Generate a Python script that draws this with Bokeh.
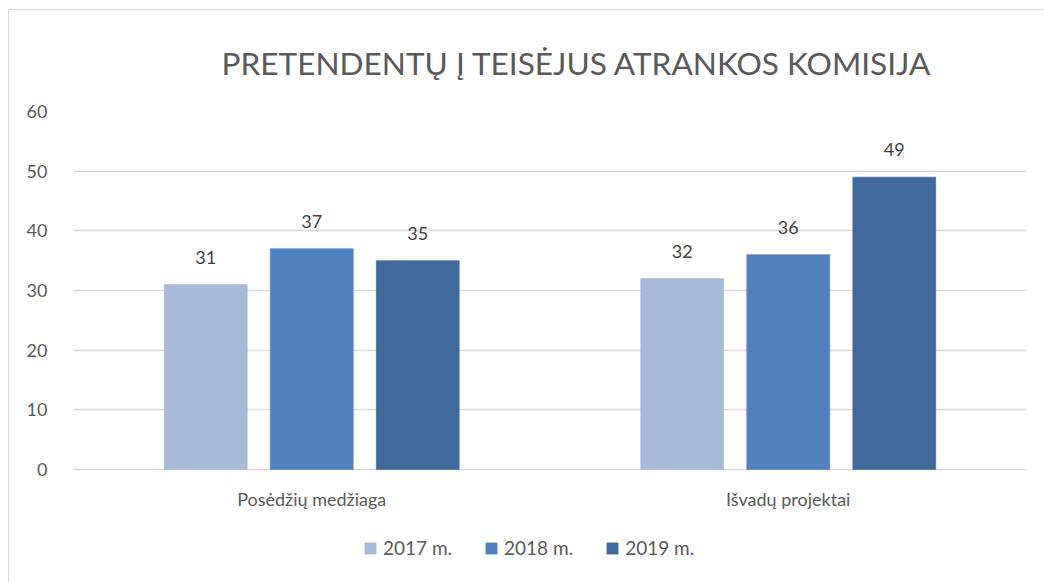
from bokeh.plotting import figure
from bokeh.models import ColumnDataSource, Legend, LegendItem, FixedTicker, Range1d, Title
from bokeh.core.properties import value
from bokeh.embed import file_html
from bokeh.resources import INLINE

categories = ["Posėdžių medžiaga", "Išvadų projektai"]
years = ["2017 m.", "2018 m.", "2019 m."]
y2017 = [31, 32]
y2018 = [37, 36]
y2019 = [35, 49]
colors = ["#A9B9D8", "#4F81BD", "#41699B"]
title_text = "PRETENDENTŲ Į TEISĖJUS ATRANKOS KOMISIJA"
y_ticks = [0, 10, 20, 30, 40, 50, 60]

FONT = "Lato"
W, H = 1036, 573
# frame extends below the value axis to leave room for category labels and legend
Y_MIN, Y_MAX = -18.1, 60

p = figure(width=W, height=H, output_backend="svg", toolbar_location=None,
           x_range=Range1d(0, len(categories)), y_range=Range1d(Y_MIN, Y_MAX),
           min_border_left=64, min_border_right=19, min_border_top=101, min_border_bottom=6)
p.styles = {"margin-left": "8px", "margin-top": "9px",
            "border-left": "1px solid #D9D9D9", "border-top": "1px solid #D9D9D9"}
p.outline_line_color = None
p.background_fill_color = "white"
p.border_fill_color = "white"

centers = [i + 0.5 for i in range(len(categories))]
offsets = [-0.2225, 0.0, 0.2225]
bw = 0.174
renderers = []
for series, off, col in zip([y2017, y2018, y2019], offsets, colors):
    xs = [c + off for c in centers]
    src = ColumnDataSource(dict(x=xs, top=series, lab=[str(v) for v in series]))
    r = p.vbar(x="x", top="top", width=bw, bottom=0, source=src,
               fill_color=col, line_color=col, line_alpha=0.6, line_width=1)
    renderers.append(r)
    p.text(x="x", y="top", text="lab", source=src, text_align="center",
           text_baseline="bottom", y_offset=-21, text_font=value(FONT),
           text_font_size="18px", text_color="#404040")

# category labels under the baseline
csrc = ColumnDataSource(dict(x=centers, y=[0] * len(centers), lab=categories))
p.text(x="x", y="y", text="lab", source=csrc, text_align="center",
       text_baseline="middle", y_offset=29, text_font=value(FONT),
       text_font_size="18px", text_color="#595959")

# axes
p.yaxis.ticker = FixedTicker(ticks=y_ticks)
p.yaxis.axis_line_color = None
p.yaxis.major_tick_line_color = None
p.yaxis.minor_tick_line_color = None
p.yaxis.major_label_text_font = FONT
p.yaxis.major_label_text_font_size = "18px"
p.yaxis.major_label_text_color = "#595959"
p.yaxis.major_label_standoff = 20
p.xaxis.visible = False

p.xgrid.grid_line_color = None
p.ygrid.ticker = FixedTicker(ticks=y_ticks)
p.ygrid.grid_line_color = "#D9D9D9"
p.ygrid.grid_line_width = 1.5

# title
t = Title(text=title_text, align="left", offset=148, text_font=FONT,
          text_font_size="31.6px", text_font_style="normal", text_color="#595959",
          standoff=60)
p.add_layout(t, "above")

legend = Legend(items=[LegendItem(label=y, renderers=[r]) for y, r in zip(years, renderers)],
                orientation="horizontal", location=(290, 18),
                label_text_font=FONT, label_text_font_size="19px", label_text_color="#595959",
                glyph_width=14, glyph_height=14, spacing=32, label_standoff=6,
                border_line_color=None, background_fill_alpha=0, margin=0, padding=0)
p.add_layout(legend, "center")

open("out.html", "w").write(file_html(p, INLINE))
